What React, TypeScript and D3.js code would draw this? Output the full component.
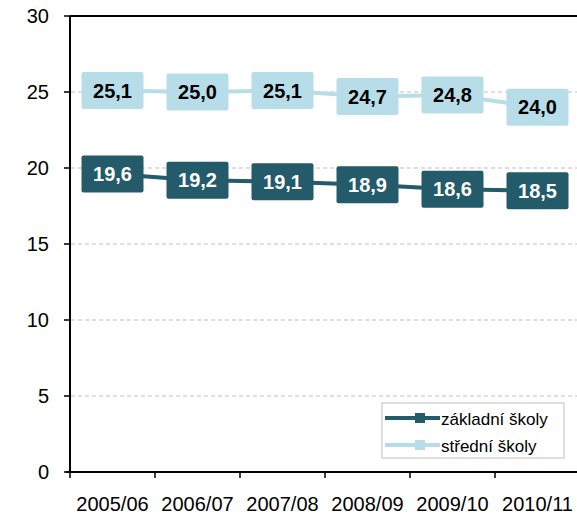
import React from "react";
import * as d3 from "d3";

const years = ["2005/06", "2006/07", "2007/08", "2008/09", "2009/10", "2010/11"];
const zakladni = [19.6, 19.2, 19.1, 18.9, 18.6, 18.5];
const stredni = [25.1, 25.0, 25.1, 24.7, 24.8, 24.0];
const yTicks = [0, 5, 10, 15, 20, 25, 30];

const darkColor = "#245b6a";
const lightColor = "#b7dee8";
const font = "'Liberation Sans', Arial, sans-serif";

const fmt = (v: number) => v.toFixed(1).replace(".", ",");

const App = () => {
  const width = 577;
  const height = 517;
  const left = 70;
  const right = 580;
  const top = 16;
  const bottom = 472;

  const x = d3.scaleBand().domain(years).range([left, right]);
  const y = d3.scaleLinear().domain([0, 30]).range([bottom, top]);
  const cx = (d: string) => (x(d) ?? 0) + x.bandwidth() / 2;

  const line = d3
    .line<number>()
    .x((_, i) => cx(years[i]))
    .y(d => y(d));

  const series = [
    { name: "základní školy", values: zakladni, fill: darkColor, text: "#ffffff" },
    { name: "střední školy", values: stredni, fill: lightColor, text: "#000000" },
  ];

  const boundaries = years.map(d => x(d) ?? 0).concat([right]);

  return (
    <svg
      width={width}
      height={height}
      style={{ position: "absolute", left: 0, top: 0, background: "#fff" }}
      fontFamily={font}
    >
      {/* gridlines */}
      {yTicks.filter(t => t > 0 && t < 30).map(t => (
        <line
          key={t}
          x1={left - 6}
          x2={right}
          y1={y(t)}
          y2={y(t)}
          stroke="#bfbfbf"
          strokeDasharray="4,3"
          strokeWidth={1}
        />
      ))}
      {/* top border */}
      <line x1={left} x2={width} y1={y(30)} y2={y(30)} stroke="#000" strokeWidth={2} />

      {/* y axis */}
      <line x1={left} x2={left} y1={top} y2={bottom} stroke="#000" strokeWidth={2} />
      {yTicks.map(t => (
        <g key={t}>
          <line x1={left - 6} x2={left} y1={y(t)} y2={y(t)} stroke="#000" strokeWidth={1.5} />
          <text x={left - 21} y={y(t)} dy="0.36em" textAnchor="end" fontSize={20}>
            {t}
          </text>
        </g>
      ))}

      {/* x axis */}
      <line x1={left - 4} x2={width} y1={bottom} y2={bottom} stroke="#000" strokeWidth={2} />
      {boundaries.map((b, i) => (
        <line key={i} x1={b} x2={b} y1={bottom} y2={bottom + 6} stroke="#000" strokeWidth={1.5} />
      ))}
      {years.map(d => (
        <text key={d} x={cx(d)} y={511} textAnchor="middle" fontSize={20}>
          {d}
        </text>
      ))}

      {/* series */}
      {series.map(s => (
        <g key={s.name}>
          <path d={line(s.values) ?? ""} fill="none" stroke={s.fill} strokeWidth={4} />
          {s.values.map((v, i) => (
            <g key={i} transform={`translate(${cx(years[i])},${y(v)})`}>
              <rect x={-31} y={-18.5} width={62} height={37} rx={2} fill={s.fill} />
              <text
                textAnchor="middle"
                dy="0.36em"
                fontSize={20}
                fontWeight="bold"
                fill={s.text}
              >
                {fmt(v)}
              </text>
            </g>
          ))}
        </g>
      ))}

      {/* legend */}
      <rect x={382} y={403} width={182} height={55} fill="#fff" stroke="#bfbfbf" strokeWidth={1} />
      {series.map((s, i) => {
        const ly = 418 + i * 27;
        return (
          <g key={s.name}>
            <line x1={385} x2={440} y1={ly} y2={ly} stroke={s.fill} strokeWidth={4} />
            <rect x={415} y={ly - 5} width={10} height={10} fill={s.fill} />
            <text x={441} y={ly + 1} dy="0.35em" fontSize={17}>
              {s.name}
            </text>
          </g>
        );
      })}
    </svg>
  );
};

export default App;
